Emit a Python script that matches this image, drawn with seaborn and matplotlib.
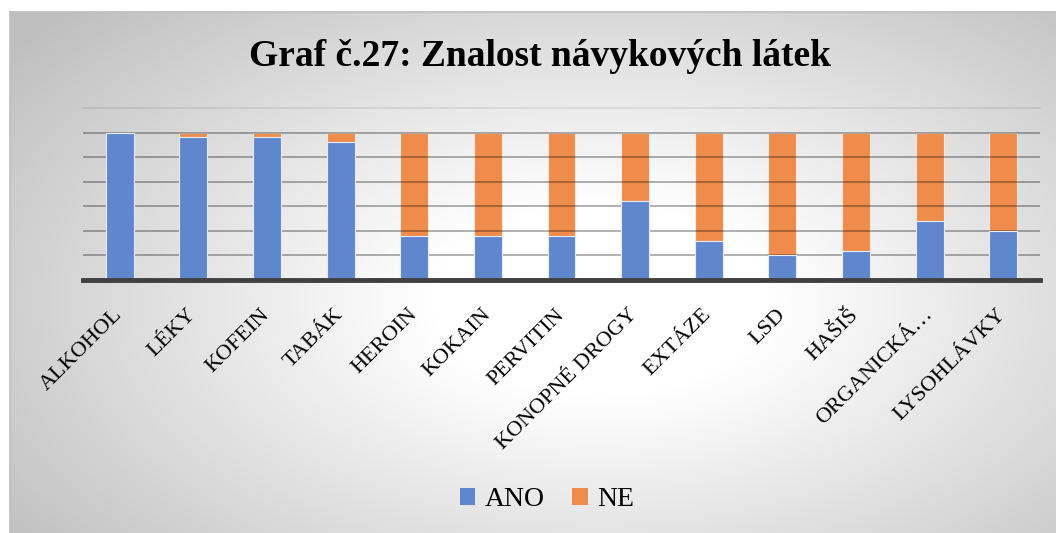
import numpy as np
import pandas as pd
import matplotlib
matplotlib.use("Agg")
import matplotlib.pyplot as plt
from matplotlib.patches import Patch
import seaborn as sns

# Data (number of respondents, 30 in total per substance)
categories = ["ALKOHOL", "LÉKY", "KOFEIN", "TABÁK", "HEROIN", "KOKAIN", "PERVITIN",
              "KONOPNÉ DROGY", "EXTÁZE", "LSD", "HAŠIŠ", "ORGANICKÁ…", "LYSOHLÁVKY"]
ano = [30, 29, 29, 28, 9, 9, 9, 16, 8, 5, 6, 12, 10]
ne = [0, 1, 1, 2, 21, 21, 21, 14, 22, 25, 24, 18, 20]
series_names = ["ANO", "NE"]
title = "Graf č.27: Znalost návykových látek"

blue = "#6087CD"
orange = "#EF8C4C"

sns.set_style("white")
plt.rcParams["font.family"] = ["Liberation Serif", "DejaVu Serif"]
plt.rcParams["text.color"] = "black"
plt.rcParams["xtick.color"] = "black"

df = pd.DataFrame({"kategorie": categories, "ANO": ano, "NE": ne})
df["celkem"] = df["ANO"] + df["NE"]

W, H = 1056, 533
fig = plt.figure(figsize=(W / 100, H / 100), dpi=100)
fig.patch.set_facecolor("white")

# radial grey gradient background of the chart area
bg = fig.add_axes([10 / W, 0, (W - 10) / W, 1 - 12 / H])
yy, xx = np.mgrid[12:H, 10:W]
d = np.sqrt(((xx - 600) / 600.0) ** 2 + ((yy - 300) / 340.0) ** 2)
g = 255 - 64 * np.clip((d - 0.28) / 0.95, 0, 1)
img = np.dstack([g, g, g]).astype(np.uint8)
bg.imshow(img, aspect="auto", extent=[0, 1, 0, 1], interpolation="bilinear")
bg.set_xlim(0, 1)
bg.set_ylim(0, 1)
bg.set_xticks([])
bg.set_yticks([])
for s in ["right", "bottom"]:
    bg.spines[s].set_visible(False)
for s in ["top", "left"]:
    bg.spines[s].set_color("#BDBDBD")
    bg.spines[s].set_linewidth(1.2)

ax = fig.add_axes([83 / W, 1 - 280 / H, (1040 - 83) / W, (280 - 108) / H])
ax.set_facecolor("none")

sns.barplot(data=df, x="kategorie", y="celkem", color=orange, saturation=1,
            width=0.38, edgecolor="#FBE9DC", linewidth=0.8, ax=ax, zorder=2)
sns.barplot(data=df, x="kategorie", y="ANO", color=blue, saturation=1,
            width=0.38, edgecolor="#E4ECF8", linewidth=0.8, ax=ax, zorder=3)

ax.set_ylim(0, 35)
ax.set_xlim(-0.5, len(categories) - 0.5)
ax.set_yticks(np.arange(0, 31, 5))
ax.set_yticklabels([])
ax.yaxis.grid(True, color="black", alpha=0.33, linewidth=1.3, zorder=4)
ax.axhline(35, color="black", alpha=0.08, linewidth=1.3, zorder=4, clip_on=False)
ax.set_axisbelow(False)
ax.tick_params(axis="both", length=0)
for s in ["top", "right", "left"]:
    ax.spines[s].set_visible(False)
ax.spines["bottom"].set_color("#404040")
ax.spines["bottom"].set_linewidth(3.5)
ax.spines["bottom"].set_zorder(5)
ax.set_xlabel("")
ax.set_ylabel("")

ax.set_xticks(range(len(categories)))
ax.set_xticklabels(categories, rotation=45, ha="right", va="center",
                   rotation_mode="anchor", fontsize=16)
ax.tick_params(axis="x", pad=23)

fig.text(540 / W, 1 - 57 / H, title, ha="center", va="center",
         fontsize=27, fontweight="bold")

handles = [Patch(facecolor=blue, edgecolor="none"), Patch(facecolor=orange, edgecolor="none")]
fig.legend(handles, series_names, loc="center", bbox_to_anchor=(547 / W, 1 - 500 / H),
           ncol=2, frameon=False, fontsize=20, handlelength=0.55, handleheight=0.55,
           handletextpad=0.35, columnspacing=1.0)

fig.savefig("out.png", dpi=100)
